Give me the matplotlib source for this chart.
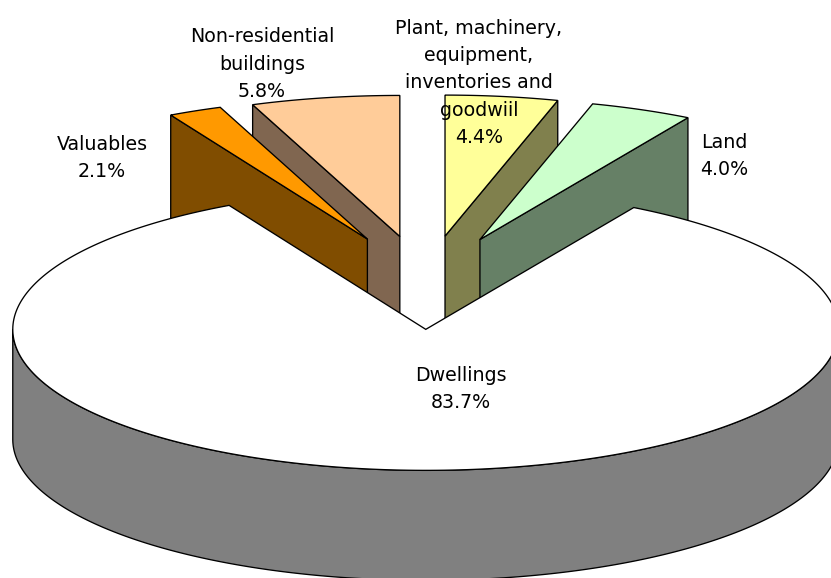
import numpy as np
import matplotlib
matplotlib.use("Agg")
import matplotlib.pyplot as plt
from matplotlib.patches import Polygon

# clockwise from 12 o'clock, same order as the source chart
labels = ['Plant, machinery,\nequipment,\ninventories and\ngoodwiil', 'Land', 'Dwellings', 'Valuables', 'Non-residential\nbuildings']
shares = [4.4, 4.0, 83.7, 2.1, 5.8]
top_colors = ['#FFFF99', '#CCFFCC', '#FFFFFF', '#FF9900', '#FFCC99']
side_colors = ['#80804D', '#668066', '#808080', '#804D00', '#806650']
label_xy = [(479, 83), (724, 156), (461, 389), (102, 158), (262, 64)]

# pie geometry in picture pixels
cx, cy = 425.5, 284
rx, ry = 413, 141
explode = 0.343
depth = 110
nudge = [(0, 0), (-1, 0), (2.5, -3), (1, -1), (0, 0)]


def point(theta, r, ox, oy):
	return ox + r * rx * np.sin(theta), oy - r * ry * np.cos(theta)


def face_points(t0, t1, ox, oy):
	ts = np.linspace(t0, t1, 300)
	xs, ys = point(ts, 1, ox, oy)
	return np.column_stack([np.r_[ox, xs], np.r_[oy, ys]])


fig = plt.figure(figsize=(8.31, 5.78), dpi=100)
ax = fig.add_axes([0, 0, 1, 1])
ax.set_xlim(0, 831)
ax.set_ylim(578, 0)
ax.axis('off')

edges = np.r_[0, np.cumsum(shares)] / sum(shares) * 2 * np.pi
slices = []
for i in range(len(shares)):
	t0, t1 = edges[i], edges[i + 1]
	mid = (t0 + t1) / 2
	ox, oy = point(mid, explode, cx, cy)
	slices.append((i, t0, t1, ox + nudge[i][0], oy + nudge[i][1]))

# back slices first, the big one has to cover their walls
order = [4, 3, 0, 1, 2]
z = 2
for i, t0, t1, ox, oy in [slices[k] for k in order]:
	if i == 2:
		# outer wall of the front half
		ts = np.linspace(np.pi / 2, 3 * np.pi / 2, 300)
		xs, ys = point(ts, 1, ox, oy)
		wall = np.column_stack([np.r_[xs, xs[::-1]], np.r_[ys, ys[::-1] + depth]])
	else:
		# radial wall that faces the viewer
		t = t0 if i in (3, 4) else t1
		x1, y1 = point(t, 1, ox, oy)
		wall = [(ox, oy), (x1, y1), (x1, y1 + depth), (ox, oy + depth)]
	ax.add_patch(Polygon(wall, closed=True, fc=side_colors[i], ec='black', lw=0.95, zorder=z))
	ax.add_patch(Polygon(face_points(t0, t1, ox, oy), closed=True, fc=top_colors[i], ec='black', lw=0.95, zorder=z + 1))
	z += 2

for i in range(len(labels)):
	txt = labels[i] + '\n' + '%.1f%%' % shares[i]
	ax.text(label_xy[i][0], label_xy[i][1], txt, ha='center', va='center', fontsize=13.7,
		family='DejaVu Sans', color='black', linespacing=1.55, zorder=20)

fig.savefig('out.png', dpi=100)
